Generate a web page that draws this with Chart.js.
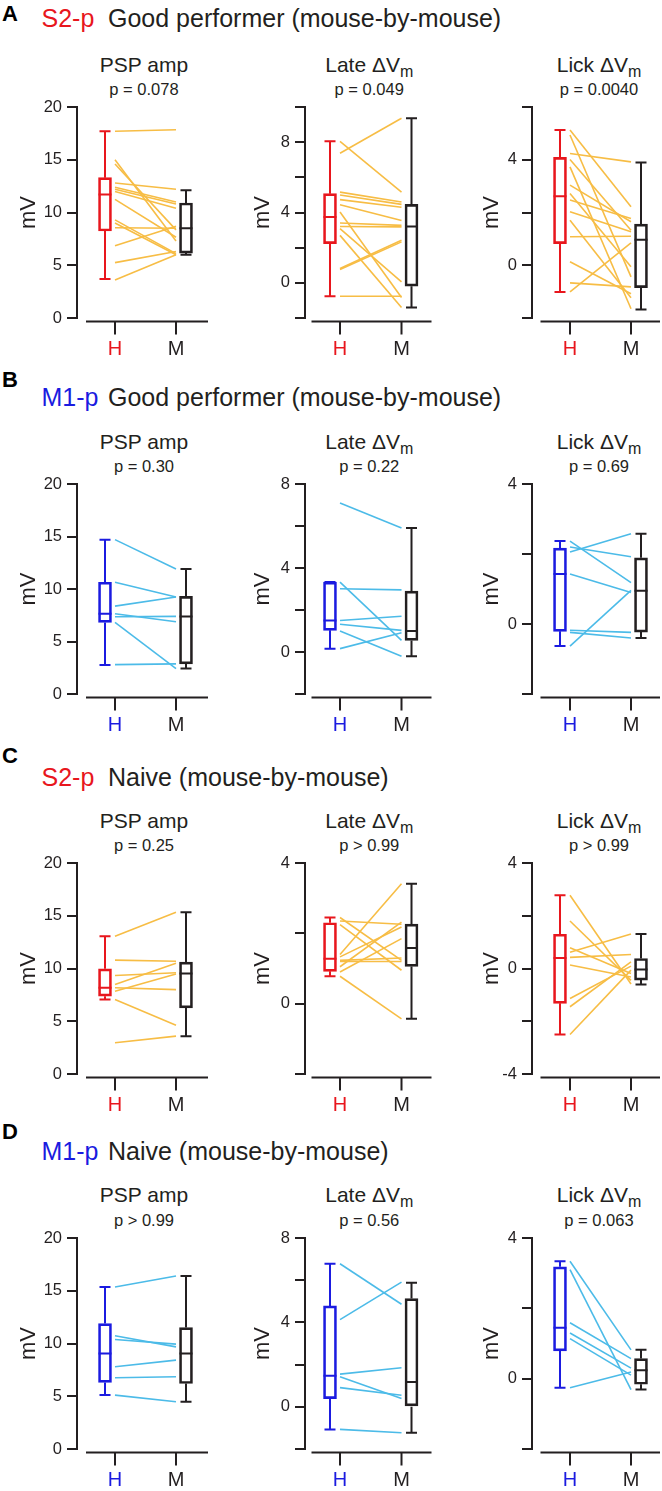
<!DOCTYPE html>
<html><head><meta charset="utf-8">
<script src="https://cdn.jsdelivr.net/npm/chart.js@4.4.1/dist/chart.umd.min.js"></script>
<style>
html,body{margin:0;padding:0;background:#fff}
body{width:662px;height:1491px;position:relative;overflow:hidden;font-family:"Liberation Sans",Arial,Helvetica,sans-serif;color:#231f20}
canvas{position:absolute}
.t{position:absolute;white-space:nowrap;line-height:1}
.sub{position:relative;top:5px;font-size:16px}
</style></head><body>
<script>
// ---------- categories ----------
const groups = ['H', 'M'];

// ---------- Row A : S2-p, good performer ----------
const aPspH = [17.7, 15.0, 14.6, 12.8, 12.4, 12.2, 12.0, 11.25, 9.3, 9.0, 8.55, 6.85, 5.25, 3.6];
const aPspM = [17.85, 7.3, 8.35, 12.2, 11.0, 10.8, 10.4, 7.65, 6.1, 6.0, 8.5, 8.7, 6.3, 6.0];
const aPspBoxH = [3.7, 8.25, 11.7, 13.3, 17.7];   // min, q1, median, q3, max
const aPspBoxM = [6.0, 6.15, 8.5, 10.9, 12.1];
const aLateH = [8.05, 7.37, 5.16, 5.0, 4.73, 4.44, 4.03, 3.4, 3.2, 3.08, 2.7, 0.81, 0.76, -0.76];
const aLateM = [5.16, 9.36, 4.6, 4.46, 4.3, 3.55, -0.83, 3.27, 3.18, 0.06, -1.4, 2.42, 2.33, -0.76];
const aLateBoxH = [-0.76, 2.23, 3.75, 5.07, 8.05];
const aLateBoxM = [-1.4, -0.19, 3.2, 4.46, 9.36];
const aLickH = [5.13, 4.94, 4.24, 4.01, 3.73, 3.04, 2.72, 2.47, 2.03, 1.71, 1.08, 0.13, -0.67, -1.01];
const aLickM = [2.22, -0.44, 3.92, 1.33, -1.65, 1.65, -0.06, 1.77, 1.27, -1.23, 1.1, -1.08, -0.82, 0.85];
const aLickBoxH = [-1.01, 0.82, 2.62, 4.09, 5.13];
const aLickBoxM = [-1.68, -0.85, 0.97, 1.56, 3.9];

// ---------- Row B : M1-p, good performer ----------
const bPspH = [14.7, 10.64, 8.37, 7.64, 7.35, 6.82, 2.8];
const bPspM = [11.9, 9.24, 9.24, 6.88, 7.39, 2.42, 2.87];
const bPspBoxH = [2.77, 6.82, 7.64, 10.64, 14.7];
const bPspBoxM = [2.42, 2.87, 7.39, 9.3, 11.9];
const bLateH = [7.1, 3.33, 3.01, 1.5, 1.32, 1.0, 0.16];
const bLateM = [5.9, 0.55, 2.96, 1.7, 1.03, -0.2, 0.92];
const bLateBoxH = [0.16, 1.03, 1.5, 3.33, 3.33];
const bLateBoxM = [-0.2, 0.55, 1.0, 2.9, 5.9];
const bLickH = [2.37, 2.2, 2.06, 1.43, -0.18, -0.24, -0.63];
const bLickM = [1.18, 1.92, 2.58, 0.9, -0.24, -0.4, 0.96];
const bLickBoxH = [-0.63, -0.21, 1.43, 2.17, 2.37];
const bLickBoxM = [-0.4, -0.23, 0.95, 1.89, 2.58];

// ---------- Row C : S2-p, naive ----------
const cPspH = [13.06, 10.79, 9.34, 8.48, 8.17, 7.85, 7.06, 2.96];
const cPspM = [15.34, 10.69, 9.59, 10.5, 8.0, 9.47, 4.63, 3.59];
const cPspBoxH = [7.06, 7.38, 8.17, 9.97, 13.06];
const cPspBoxM = [3.59, 6.27, 9.53, 10.6, 15.34];
const cLateH = [2.45, 2.35, 2.25, 1.4, 1.33, 1.23, 1.2, 1.05, 0.9, 0.78];
const cLateM = [1.23, 2.26, 0.95, 3.41, 2.18, 1.3, 1.2, 2.32, 1.85, -0.43];
const cLateBoxH = [0.78, 0.92, 1.28, 2.30, 2.45];
const cLateBoxM = [-0.43, 1.06, 1.58, 2.26, 3.41];
const cLickH = [2.78, 1.8, 0.79, 0.62, 0.42, 0.13, -1.14, -1.45, -2.5];
const cLickM = [-0.59, -0.45, -0.19, 1.31, 0.53, -0.32, 0.09, 0.25, -0.06];
const cLickBoxH = [-2.5, -1.32, 0.4, 1.3, 2.78];
const cLickBoxM = [-0.61, -0.44, -0.04, 0.38, 1.31];

// ---------- Row D : M1-p, naive ----------
const dPspH = [15.36, 10.73, 10.38, 7.79, 6.75, 5.11];
const dPspM = [16.4, 9.68, 9.94, 8.42, 6.85, 4.48];
const dPspBoxH = [5.11, 6.31, 9.05, 11.89, 15.36];
const dPspBoxM = [4.48, 6.21, 9.05, 11.51, 16.4];
const dLateH = [6.78, 4.13, 1.55, 1.42, 0.91, -1.07];
const dLateM = [4.86, 5.91, 1.85, 0.39, 0.55, -1.23];
const dLateBoxH = [-1.07, 0.39, 1.47, 4.78, 6.78];
const dLateBoxM = [-1.23, 0.0, 1.18, 5.13, 5.88];
const dLickH = [3.34, 3.1, 1.59, 1.3, 1.14, -0.26];
const dLickM = [0.82, -0.31, 0.57, 0.3, 0.1, 0.19];
const dLickBoxH = [-0.26, 0.79, 1.45, 3.18, 3.34];
const dLickBoxM = [-0.31, -0.16, 0.24, 0.57, 0.82];

// ---------- tick values / labels ----------
const pspTicks = [0, 5, 10, 15, 20];
const pspLabels = [0, 5, 10, 15, 20];
const aLateTicks = [-2, 0, 2, 4, 6, 8, 10];
const aLickTicks = [-2, 0, 2, 4, 6];
const bLateTicks = [-2, 0, 2, 4, 6, 8];
const bLickTicks = [-2, 0, 2, 4];
const cLateTicks = [-2, 0, 2, 4];
const cLickTicks = [-4, -2, 0, 2, 4];
const dLateTicks = [-2, 0, 2, 4, 6, 8];
const dLickTicks = [-2, 0, 2, 4];
const labels048 = [0, 4, 8];
const labels04 = [0, 4];
const labelsM404 = [-4, 0, 4];

// ---------- text ----------
const rowLetters = ['A', 'B', 'C', 'D'];
const rowAreas = ['S2-p', 'M1-p', 'S2-p', 'M1-p'];
const rowDescs = ['Good performer (mouse-by-mouse)', 'Good performer (mouse-by-mouse)', 'Naive (mouse-by-mouse)', 'Naive (mouse-by-mouse)'];
const pValues = [
  ['p = 0.078', 'p = 0.049', 'p = 0.0040'],
  ['p = 0.30', 'p = 0.22', 'p = 0.69'],
  ['p = 0.25', 'p > 0.99', 'p > 0.99'],
  ['p > 0.99', 'p = 0.56', 'p = 0.063']
];

// ---------- styling / layout ----------
const FONT = '"Liberation Sans", Arial, Helvetica, sans-serif';
const INK = '#231f20';
const RED = '#e8161d';
const BLUE = '#1b1be0';
const ORANGE = '#f7bd45';
const LIGHTBLUE = '#4cbbe8';

const rows = [
  {y20: 107,    y0: 318,    letterBase: 22,   titleBase: 27,    hColor: RED,  lineColor: ORANGE},
  {y20: 484.3,  y0: 694.7,  letterBase: 388,  titleBase: 406,   hColor: BLUE, lineColor: LIGHTBLUE},
  {y20: 863.3,  y0: 1074,   letterBase: 764,  titleBase: 786.5, hColor: RED,  lineColor: ORANGE},
  {y20: 1237.7, y0: 1449,   letterBase: 1140, titleBase: 1160,  hColor: BLUE, lineColor: LIGHTBLUE}
];
const cols = [
  {yx: 77,  h: 115, m: 176,   xs: 86,    xe: 208,   titlePad: 1},
  {yx: 305, h: 340, m: 401.5, xs: 311.5, xe: 431.5, titlePad: 7},
  {yx: 532, h: 570, m: 631,   xs: 540.5, xe: 660,   titlePad: 9}
];

const panels = [
  {r:0,c:0,title:'PSP amp',h:aPspH,m:aPspM,bh:aPspBoxH,bm:aPspBoxM,min:0,max:20,ticks:pspTicks,labels:pspLabels},
  {r:0,c:1,title:'Late',h:aLateH,m:aLateM,bh:aLateBoxH,bm:aLateBoxM,min:-2,max:10,ticks:aLateTicks,labels:labels048},
  {r:0,c:2,title:'Lick',h:aLickH,m:aLickM,bh:aLickBoxH,bm:aLickBoxM,min:-2,max:6,ticks:aLickTicks,labels:labels04},
  {r:1,c:0,title:'PSP amp',h:bPspH,m:bPspM,bh:bPspBoxH,bm:bPspBoxM,min:0,max:20,ticks:pspTicks,labels:pspLabels},
  {r:1,c:1,title:'Late',h:bLateH,m:bLateM,bh:bLateBoxH,bm:bLateBoxM,min:-2,max:8,ticks:bLateTicks,labels:labels048},
  {r:1,c:2,title:'Lick',h:bLickH,m:bLickM,bh:bLickBoxH,bm:bLickBoxM,min:-2,max:4,ticks:bLickTicks,labels:labels04},
  {r:2,c:0,title:'PSP amp',h:cPspH,m:cPspM,bh:cPspBoxH,bm:cPspBoxM,min:0,max:20,ticks:pspTicks,labels:pspLabels},
  {r:2,c:1,title:'Late',h:cLateH,m:cLateM,bh:cLateBoxH,bm:cLateBoxM,min:-2,max:4,ticks:cLateTicks,labels:labels04},
  {r:2,c:2,title:'Lick',h:cLickH,m:cLickM,bh:cLickBoxH,bm:cLickBoxM,min:-4,max:4,ticks:cLickTicks,labels:labelsM404},
  {r:3,c:0,title:'PSP amp',h:dPspH,m:dPspM,bh:dPspBoxH,bm:dPspBoxM,min:0,max:20,ticks:pspTicks,labels:pspLabels},
  {r:3,c:1,title:'Late',h:dLateH,m:dLateM,bh:dLateBoxH,bm:dLateBoxM,min:-2,max:8,ticks:dLateTicks,labels:labels048},
  {r:3,c:2,title:'Lick',h:dLickH,m:dLickM,bh:dLickBoxH,bm:dLickBoxM,min:-2,max:4,ticks:dLickTicks,labels:labels04}
];

Chart.defaults.font.family = FONT;
Chart.defaults.color = INK;

// ---------- helpers for text ----------
function addText(parts, x, baseline, size, center, extraStyle) {
  const d = document.createElement('div');
  d.className = 't';
  d.style.fontSize = size + 'px';
  d.style.top = (baseline - 0.8465 * size) + 'px';
  d.style.left = x + 'px';
  if (center) d.style.transform = 'translateX(-50%)';
  if (extraStyle) Object.assign(d.style, extraStyle);
  parts.forEach(p => {
    if (typeof p === 'string') d.appendChild(document.createTextNode(p));
    else {
      const s = document.createElement('span');
      s.textContent = p.text;
      if (p.cls) s.className = p.cls;
      if (p.color) s.style.color = p.color;
      d.appendChild(s);
    }
  });
  document.body.appendChild(d);
  return d;
}

// row headings
rows.forEach((row, i) => {
  addText([rowLetters[i]], 2, row.letterBase, 22, false, {fontWeight: 'bold', color: '#000'});
  addText([{text: rowAreas[i], color: row.hColor}], 41.5, row.titleBase, 25, false);
  addText([rowDescs[i]], 108, row.titleBase, 25, false);
});

// ---------- x-axis (detached) plugin ----------
const xAxisLine = {
  id: 'xAxisLine',
  afterDraw(chart, args, o) {
    const {ctx, chartArea, scales: {x}} = chart;
    const y = chartArea.bottom + 3.5;
    const ph = x.getPixelForValue(0), pm = x.getPixelForValue(1);
    ctx.save();
    ctx.strokeStyle = INK;
    ctx.lineWidth = 2;
    ctx.beginPath();
    ctx.moveTo(ph - o.before, y); ctx.lineTo(pm + o.after, y);
    [ph, pm].forEach(px => { ctx.moveTo(px, y); ctx.lineTo(px, y + 13); });
    ctx.stroke();
    ctx.restore();
  }
};

function makePanel(p) {
  const row = rows[p.r], col = cols[p.c];
  const left = col.yx - 60;
  const top = row.y20 - 12;
  const right = col.xe + 2;
  const width = Math.round(right - left);
  const height = Math.round((row.y0 - row.y20) + 12 + 52);
  const sp = col.m - col.h;
  const xmin = (col.yx - col.h) / sp;
  const xmax = (left + width - col.h) / sp;
  const boxOff = 10 / sp, half = 6.5 / sp, cap = 5.5 / sp;

  // panel titles
  const cx = (col.h + col.m) / 2 - 1.5;
  if (p.title === 'PSP amp') addText(['PSP amp'], cx, row.y20 - 35.5, 21, true);
  else addText([p.title + ' \u0394V', {text: 'm', cls: 'sub'}], cx, row.y20 - 35.5, 21, true);
  addText([pValues[p.r][p.c]], cx, row.y20 - 12, 16.5, true);

  const cv = document.createElement('canvas');
  cv.width = width; cv.height = height;
  cv.style.left = left + 'px'; cv.style.top = top + 'px';
  cv.style.width = width + 'px'; cv.style.height = height + 'px';
  document.body.appendChild(cv);

  const ds = [];
  p.h.forEach((v, i) => ds.push({
    type: 'line', data: [{x: 0, y: v}, {x: 1, y: p.m[i]}],
    borderColor: row.lineColor, borderWidth: 1.6, pointRadius: 0, pointHoverRadius: 0, fill: false
  }));
  function boxLines(b, c, color) {
    return {
      type: 'line', borderColor: color, borderWidth: 2, pointRadius: 0, pointHoverRadius: 0,
      spanGaps: false, fill: false,
      data: [
        {x: c - half, y: b[2]}, {x: c + half, y: b[2]}, {x: c, y: null},
        {x: c, y: b[3]}, {x: c, y: b[4]}, {x: c, y: null},
        {x: c - cap, y: b[4]}, {x: c + cap, y: b[4]}, {x: c, y: null},
        {x: c, y: b[1]}, {x: c, y: b[0]}, {x: c, y: null},
        {x: c - cap, y: b[0]}, {x: c + cap, y: b[0]}
      ]
    };
  }
  ds.push({
    type: 'bar',
    data: [{x: -boxOff, y: [p.bh[1], p.bh[3]]}, {x: 1 + boxOff, y: [p.bm[1], p.bm[3]]}],
    backgroundColor: 'rgba(0,0,0,0)', borderColor: [row.hColor, INK], borderWidth: 2,
    borderSkipped: false, barThickness: 13, grouped: false
  });
  ds.push(boxLines(p.bh, -boxOff, row.hColor));
  ds.push(boxLines(p.bm, 1 + boxOff, INK));

  new Chart(cv, {
    type: 'line',
    data: {datasets: ds},
    plugins: [xAxisLine],
    options: {
      responsive: false, animation: false, events: [],
      devicePixelRatio: 1,
      layout: {padding: {top: 12, left: 0, right: 0, bottom: 0}},
      plugins: {
        legend: {display: false}, tooltip: {enabled: false},
        xAxisLine: {before: col.h - col.xs, after: col.xe - col.m}
      },
      scales: {
        x: {
          type: 'linear', min: xmin, max: xmax, offset: false,
          afterBuildTicks: s => { s.ticks = [{value: 0}, {value: 1}]; },
          afterFit: s => { s.height = 52; s.paddingLeft = 0; s.paddingRight = 0; },
          grid: {display: false, drawTicks: false},
          border: {display: false},
          ticks: {
            callback: v => groups[v] !== undefined ? groups[v] : '',
            color: ctx => ctx.index === 0 ? row.hColor : INK,
            font: {size: 20, lineHeight: 1.2}, padding: 19,
            autoSkip: false, maxRotation: 0, minRotation: 0
          }
        },
        y: {
          type: 'linear', min: p.min, max: p.max,
          afterBuildTicks: s => { s.ticks = p.ticks.map(v => ({value: v})); },
          afterFit: s => { s.width = 60; s.paddingTop = 0; s.paddingBottom = 0; },
          border: {display: true, color: INK, width: 2},
          grid: {display: true, drawOnChartArea: false, drawTicks: true, tickLength: 10, color: INK, lineWidth: 2},
          ticks: {
            callback: v => p.labels.includes(v) ? String(v) : '',
            font: {size: 16.5, lineHeight: 1.2}, color: INK, padding: 5, autoSkip: false
          },
          title: {display: true, text: 'mV', font: {size: 22, lineHeight: 1}, color: INK,
                  padding: {top: col.titlePad, bottom: 0}}
        }
      }
    }
  });
}

panels.forEach(makePanel);
</script>
</body></html>
